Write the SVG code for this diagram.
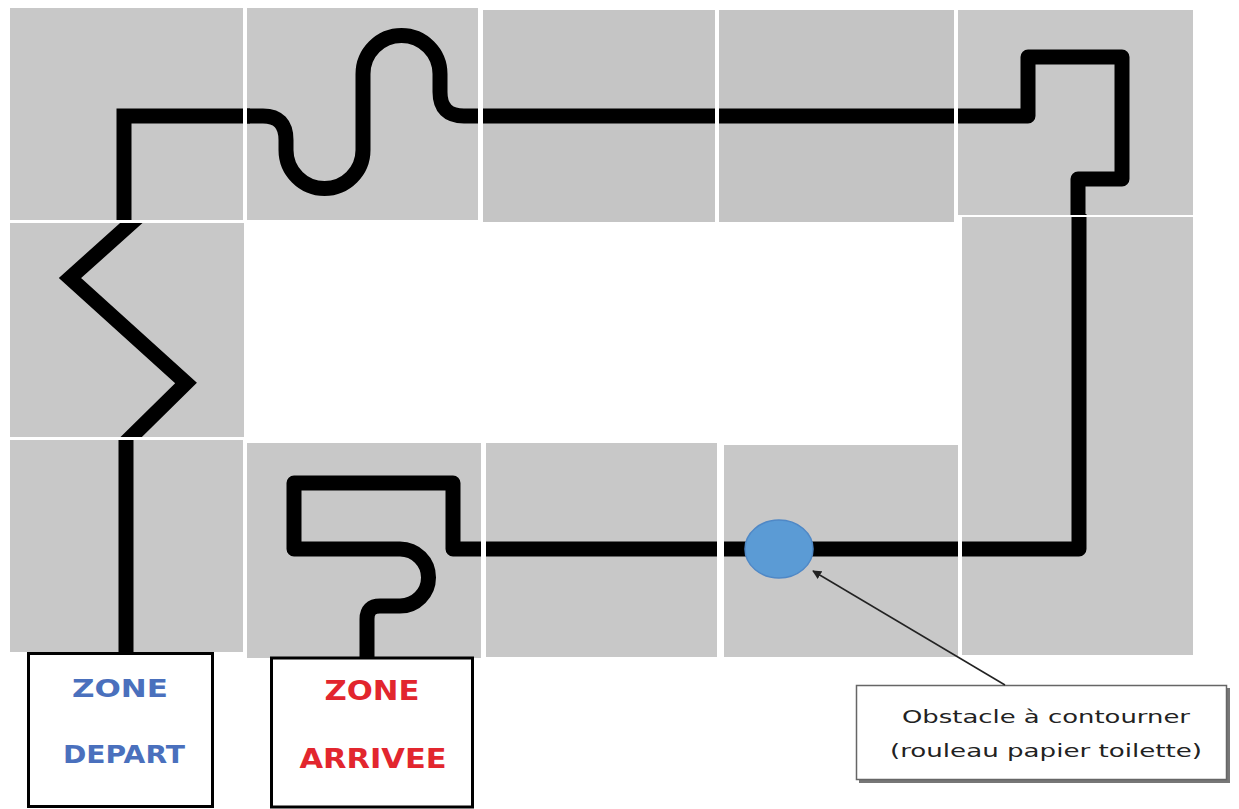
<svg xmlns="http://www.w3.org/2000/svg" width="1239" height="809" viewBox="0 0 1239 809">
<style>
.tile{fill:#c8c8c8}
.track{fill:none;stroke:#000;stroke-width:15;stroke-linejoin:round}
.sharp{stroke-linejoin:miter;stroke-miterlimit:10}
.zone{fill:#fff;stroke:#000;stroke-width:3}
.lbl{font-family:"DejaVu Sans","Liberation Sans",sans-serif;font-weight:bold;text-anchor:middle}
.blue{fill:#4a70bd}
.red{fill:#e2262e}
.note{font-family:"DejaVu Sans","Liberation Sans",sans-serif;font-size:17px;fill:#222;text-anchor:middle}
</style>
<defs>
<clipPath id="tileclip">
<rect x="10" y="8" width="233" height="212"/>
<rect x="247" y="8" width="231" height="212"/>
<rect x="483" y="10" width="232" height="212"/>
<rect x="719" y="10" width="235" height="212"/>
<rect x="958" y="10" width="235" height="205"/>
<rect x="962" y="217" width="231" height="230"/>
<rect x="10" y="440" width="233" height="212"/>
<rect x="247" y="443" width="234" height="215"/>
<rect x="486" y="443" width="231" height="214"/>
<rect x="724" y="445" width="234" height="212"/>
<rect x="962" y="447" width="231" height="208"/>
</clipPath>
<clipPath id="zigclip">
<rect x="10" y="223" width="234" height="214"/>
</clipPath>
<marker id="arrowhead" viewBox="0 0 10 10" refX="9" refY="5" markerWidth="9" markerHeight="9" markerUnits="userSpaceOnUse" orient="auto">
<path d="M0,0 L10,5 L0,10 z" fill="#222"/>
</marker>
</defs>
<rect x="0" y="0" width="1239" height="809" fill="#fff"/>
<g id="tiles">
<rect class="tile" x="10" y="8" width="233" height="212"/>
<rect class="tile" x="247" y="8" width="231" height="212"/>
<rect class="tile" x="483" y="10" width="232" height="212" style="fill:#c5c5c5"/>
<rect class="tile" x="719" y="10" width="235" height="212" style="fill:#c4c4c4"/>
<rect class="tile" x="958" y="10" width="235" height="205"/>
<rect class="tile" x="10" y="223" width="234" height="214"/>
<rect class="tile" x="962" y="217" width="231" height="230"/>
<rect class="tile" x="10" y="440" width="233" height="212"/>
<rect class="tile" x="247" y="443" width="234" height="215"/>
<rect class="tile" x="486" y="443" width="231" height="214"/>
<rect class="tile" x="724" y="445" width="234" height="212"/>
<rect class="tile" x="962" y="447" width="231" height="208"/>
</g>
<g id="track">
<g clip-path="url(#tileclip)">
<path class="track" d="M126 660 L126 440"/>
<path class="track sharp" d="M124 221 L124 116 L250 116"/>
<path class="track" d="M244 116 L263 116 Q286 116 286 140 L286 150 A38.5 38.5 0 0 0 363 150 L363 74 A38.5 38.5 0 0 1 440 74 L440 92 Q440 116 464 116 L1028 116 L1028 57 L1122 57 L1122 179 L1078 179 L1078 216"/>
<path class="track" d="M1079 214 L1079 549 L453 549 L453 483 L294 483 L294 549 L400 549 A28.5 28.5 0 0 1 400 606 L380 606 Q367 606 367 619 L367 662"/>
</g>
<path class="track sharp" clip-path="url(#zigclip)" d="M118 450 L186 383 L70 278 L148 208"/>
</g>
<g id="obstacle">
<ellipse cx="779" cy="549" rx="34" ry="29" fill="#5b9bd5" stroke="#4f88c6" stroke-width="1.5"/>
</g>
<g id="depart">
<rect class="zone" x="28.5" y="653.5" width="184" height="153"/>
<text class="lbl blue" x="120" y="697" font-size="25" textLength="96" lengthAdjust="spacingAndGlyphs">ZONE</text>
<text class="lbl blue" x="124" y="763" font-size="24" textLength="122" lengthAdjust="spacingAndGlyphs">DEPART</text>
</g>
<g id="arrivee">
<rect class="zone" x="271.5" y="658" width="201" height="149"/>
<text class="lbl red" x="372" y="700" font-size="26" textLength="95" lengthAdjust="spacingAndGlyphs">ZONE</text>
<text class="lbl red" x="373" y="768" font-size="26" textLength="147" lengthAdjust="spacingAndGlyphs">ARRIVEE</text>
</g>
<g id="callout">
<rect x="859" y="688" width="371" height="95" fill="#777"/>
<rect x="856.5" y="685.5" width="370" height="94" fill="#fff" stroke="#666" stroke-width="1.5"/>
<text class="note" x="1046" y="723" textLength="288" lengthAdjust="spacingAndGlyphs">Obstacle à contourner</text>
<text class="note" x="1046" y="757" textLength="312" lengthAdjust="spacingAndGlyphs">(rouleau papier toilette)</text>
</g>
<g id="connectors">
<line x1="1005" y1="685" x2="813" y2="571" stroke="#222" stroke-width="1.5" marker-end="url(#arrowhead)"/>
</g>
</svg>
